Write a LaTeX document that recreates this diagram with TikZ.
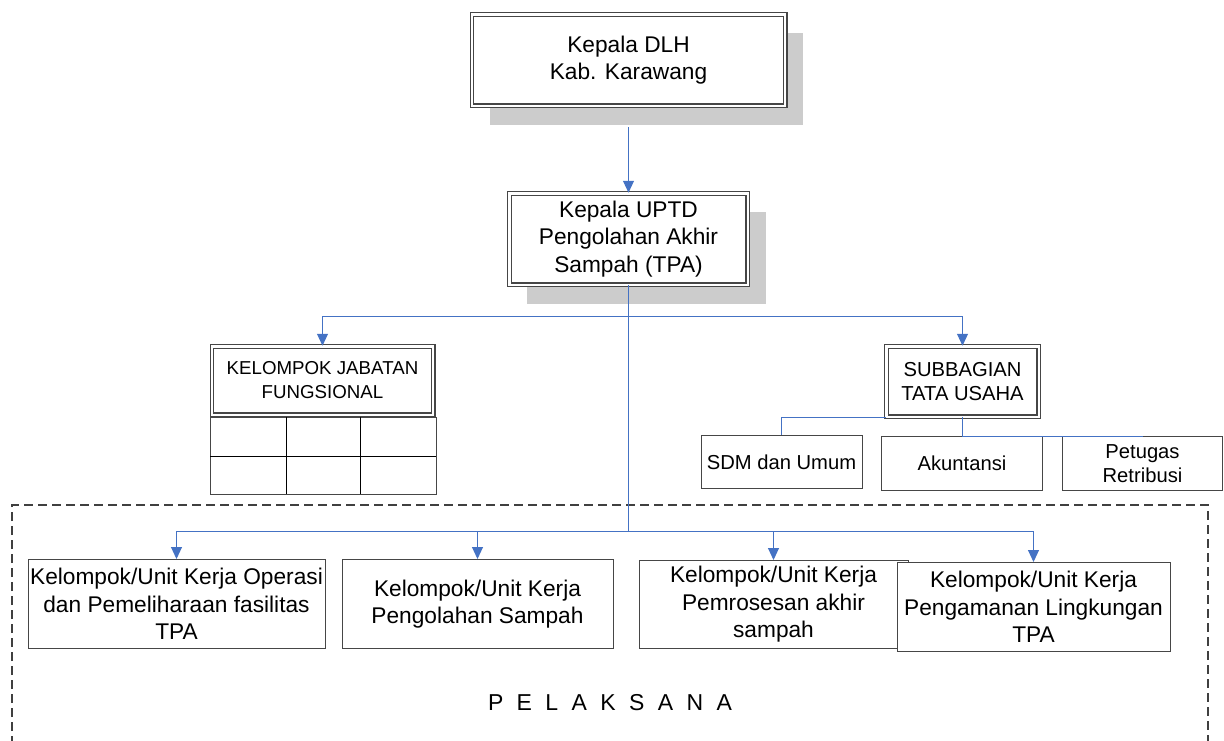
\documentclass[tikz,border=0pt]{standalone}
\usepackage{fontspec}
\setmainfont{Liberation Sans}
\usetikzlibrary{arrows.meta,shadows}
\definecolor{linkcol}{RGB}{68,114,196}
\definecolor{framecol}{RGB}{70,70,70}
\definecolor{shadecol}{RGB}{204,204,204}
\definecolor{dashcol}{RGB}{64,64,64}

\begin{document}
\begin{tikzpicture}[x=1pt,y=-1pt,>={Triangle[width=11pt,length=12pt]},
  unit/.style={draw=framecol,fill=white,line width=1pt,align=center,inner sep=0pt},
  head/.style={unit,double,double distance=2.4pt,line width=1.1pt},
  shade/.style={general shadow={fill=shadecol,shadow xshift=18pt,shadow yshift=-19pt}},
  big/.style={font=\fontsize{22.7}{27.5}\selectfont},
  mid/.style={font=\fontsize{20.2}{24.5}\selectfont},
  small/.style={font=\fontsize{18.7}{24}\selectfont},
  link/.style={linkcol,line width=1pt}]
  \useasboundingbox (0,0) rectangle (1224,740);
  \draw[dashcol,line width=1.2pt,dash pattern=on 9pt off 5pt]
    (12,745) -- (12,505) -- (1208,505) -- (1208,745);
  \node[head,shade,big,minimum width=313.4,minimum height=91.4] (dlh) at (628.5,60)
    {Kepala DLH\\Kab. Karawang};
  \node[head,shade,big,minimum width=238.4,minimum height=91.4] (uptd) at (628.5,239)
    {Kepala UPTD\\Pengolahan Akhir\\Sampah (TPA)};
  \draw[framecol,line width=1pt] (210,417) rectangle (436,494);
  \draw[black,line width=0.8pt] (210,456) -- (436,456);
  \foreach \x in {286,360}
    \draw[black,line width=0.8pt] (\x,417) -- (\x,494);
  \node[head,small,minimum width=221.4,minimum height=68.4] (kjf) at (322.5,380.5)
    {KELOMPOK JABATAN\\FUNGSIONAL};
  \node[head,mid,minimum width=152.4,minimum height=70.4] (sub) at (962.5,381.5)
    {SUBBAGIAN\\TATA USAHA};
  \node[unit,mid,minimum width=161,minimum height=53] (sdm) at (781.5,462) {SDM dan Umum};
  \node[unit,mid,minimum width=161,minimum height=54] (akun) at (962,463.5) {Akuntansi};
  \node[unit,mid,minimum width=160,minimum height=54] (pet) at (1142.5,463.5)
    {Petugas\\Retribusi};
  \node[unit,big,minimum width=297,minimum height=89] (op) at (176.5,604)
    {Kelompok/Unit Kerja Operasi\\dan Pemeliharaan fasilitas\\TPA};
  \node[unit,big,minimum width=271,minimum height=89] (olah) at (477.5,604)
    {Kelompok/Unit Kerja\\Pengolahan Sampah};
  \node[unit,big,minimum width=269,minimum height=88] (pros) at (773.5,604.5)
    {Kelompok/Unit Kerja\\Pemrosesan akhir\\sampah};
  \node[unit,big,minimum width=273,minimum height=89] (aman) at (1033.5,607)
    {Kelompok/Unit Kerja\\Pengamanan Lingkungan\\TPA};
  \node[font=\fontsize{23}{27}\selectfont] (pel) at (610,703)
    {\spaceskip=13.4pt P E L A K S A N A};
  \coordinate (fork) at (628.5,316.5);
  \coordinate (base) at (628.5,531.5);
  \draw[link,->] ([yshift=-21pt]dlh.south) -- (uptd.north);
  \draw[link] (uptd.south) -- (fork) -- (base);
  \draw[link,->] (fork) -| (kjf.north);
  \draw[link,->] (fork) -| (sub.north);
  \foreach \n in {op,olah,pros,aman}
    \draw[link,->] (base) -| (\n.north);
  \draw[link] (sub.south west) -| (sdm.north);
  \draw[link] (sub.south) |- (pet.north);
\end{tikzpicture}
\end{document}
